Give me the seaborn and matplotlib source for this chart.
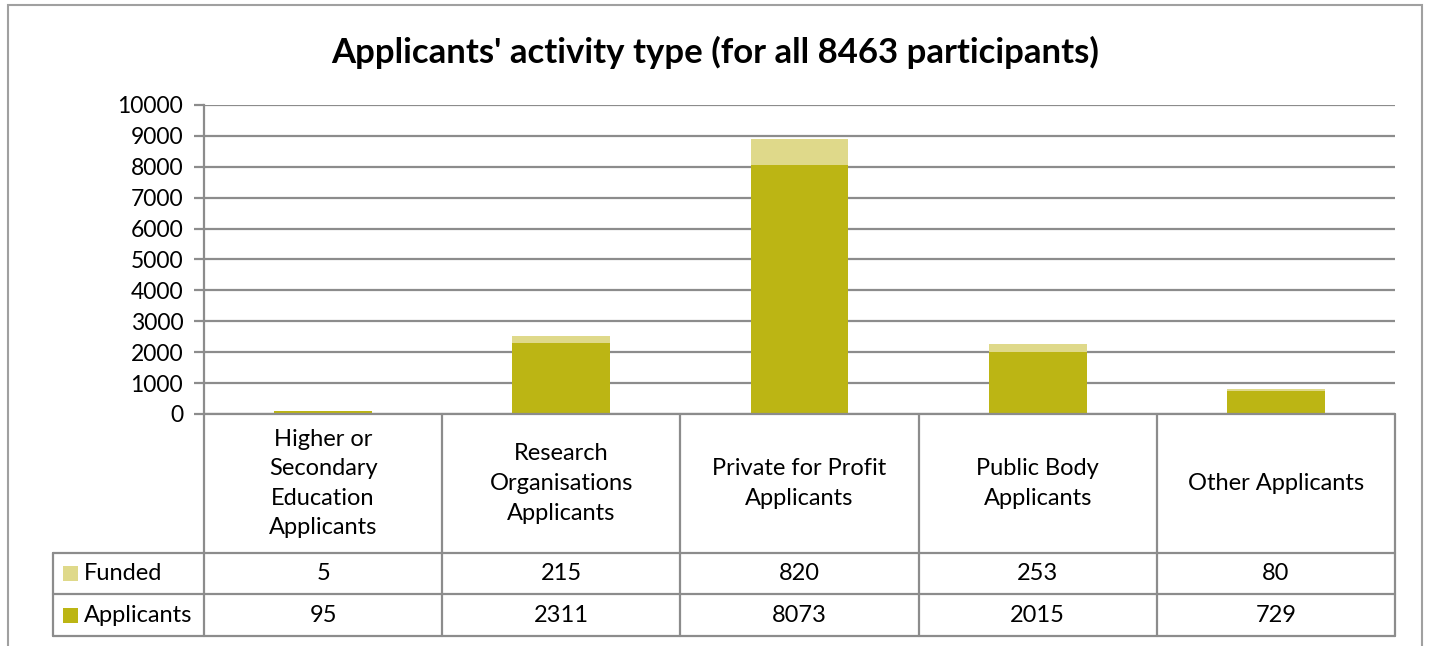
import matplotlib
matplotlib.use("Agg")
import matplotlib.pyplot as plt
import matplotlib.transforms as mtransforms
from matplotlib.patches import Rectangle
import seaborn as sns
import pandas as pd
import numpy as np

categories = ["Higher or\nSecondary\nEducation\nApplicants",
              "Research\nOrganisations\nApplicants",
              "Private for Profit\nApplicants",
              "Public Body\nApplicants",
              "Other Applicants"]
funded = [5, 215, 820, 253, 80]
applicants = [95, 2311, 8073, 2015, 729]
series_names = ["Funded", "Applicants"]
yticks = list(range(0, 10001, 1000))
title = "Applicants' activity type (for all 8463 participants)"

c_app = "#BCB514"
c_fund = "#DFD98A"
grid_c = "#8C8C8C"

sns.set_theme(style="white")
plt.rcParams["font.family"] = ["Lato", "DejaVu Sans"]
plt.rcParams["text.color"] = "black"

W, H = 1431, 646
fig = plt.figure(figsize=(W / 100, H / 100), dpi=100)
L, R, T, B = 204, 1395, 105, 414
ax = fig.add_axes([L / W, 1 - B / H, (R - L) / W, (B - T) / H])

df = pd.DataFrame({"cat": categories, "Funded": funded, "Applicants": applicants})
df["total"] = df["Funded"] + df["Applicants"]

sns.barplot(data=df, x="cat", y="total", color=c_fund, saturation=1, width=0.41, ax=ax,
            zorder=3, linewidth=0, edgecolor="none")
sns.barplot(data=df, x="cat", y="Applicants", color=c_app, saturation=1, width=0.41, ax=ax,
            zorder=4, linewidth=0, edgecolor="none")

FS = 17
ax.set_xlim(-0.5, len(categories) - 0.5)
ax.set_ylim(0, 10000)
ax.set_yticks(yticks)
ax.set_yticklabels([str(v) for v in yticks], fontsize=16.5)
ax.set_xticks([])
ax.set_xlabel("")
ax.set_ylabel("")
for v in yticks:
    ax.axhline(v, color=grid_c, lw=1.6, zorder=1)
for s in ["top", "right", "bottom"]:
    ax.spines[s].set_visible(False)
ax.spines["left"].set_color(grid_c)
ax.spines["left"].set_linewidth(1.6)
ax.tick_params(axis="y", length=7, width=1.6, color=grid_c, left=True, pad=8, labelcolor="black")

# data table
px = (B - T)
def ay(p):
    return -(p - B) / px
y_hdr = ay(553)
y_r1 = ay(594)
y_r2 = ay(636)
n = len(categories)
x_leg = -0.5 - (L - 53) / ((R - L) / n)
tr = mtransforms.blended_transform_factory(ax.transData, ax.transAxes)
lk = dict(color=grid_c, lw=1.6, transform=tr, clip_on=False, zorder=5)
for i in range(n + 1):
    xb = -0.5 + i
    ax.plot([xb, xb], [0, y_r2], **lk)
ax.plot([x_leg, x_leg], [y_hdr, y_r2], **lk)
for yy in [y_hdr, y_r1, y_r2]:
    ax.plot([x_leg, n - 0.5], [yy, yy], **lk)
ax.plot([-0.5, n - 0.5], [0, 0], **lk)

for i, c in enumerate(categories):
    ax.text(i, (0 + y_hdr) / 2, c, transform=tr, ha="center", va="center",
            fontsize=FS, linespacing=1.5, clip_on=False)
    ax.text(i, (y_hdr + y_r1) / 2, str(funded[i]), transform=tr, ha="center", va="center",
            fontsize=FS, clip_on=False)
    ax.text(i, (y_r1 + y_r2) / 2, str(applicants[i]), transform=tr, ha="center", va="center",
            fontsize=FS, clip_on=False)

for name, col, (y0, y1) in [(series_names[0], c_fund, (y_hdr, y_r1)),
                            (series_names[1], c_app, (y_r1, y_r2))]:
    yc = (y0 + y1) / 2
    sq = 15
    fy = (B - yc * px)
    fig.patches.append(Rectangle((63 / W, 1 - (fy + sq / 2) / H), sq / W, sq / H,
                                 transform=fig.transFigure, facecolor=col, edgecolor="none"))
    fig.text(84 / W, 1 - fy / H, name, ha="left", va="center", fontsize=FS)

fig.text(715 / W, 1 - 52 / H, title, ha="center", va="center", fontsize=25, fontweight="bold")

# outer border
fig.patches.append(Rectangle((8 / W, -0.1), (1422 - 8) / W, 1 - 5 / H + 0.1,
                             transform=fig.transFigure, facecolor="none",
                             edgecolor="#A0A0A0", lw=1.5))

fig.savefig("out.png", dpi=100)
